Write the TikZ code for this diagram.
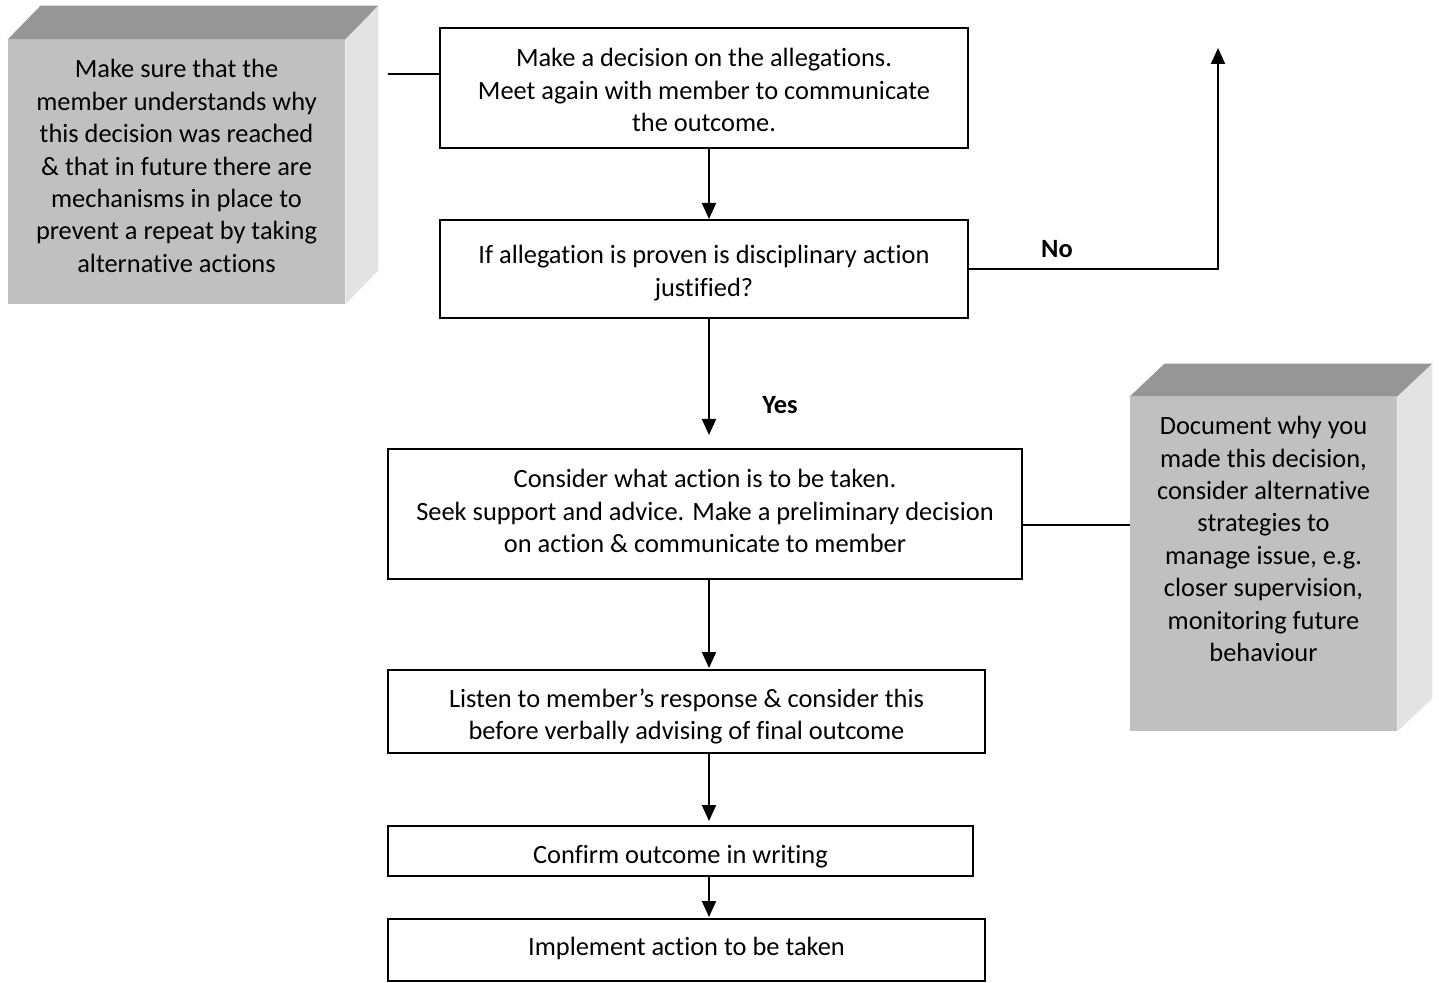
\documentclass[tikz,border=0pt]{standalone}
\usepackage{fontspec}
\setmainfont[Ligatures=NoCommon]{Carlito}
\usetikzlibrary{arrows.meta,calc}
\definecolor{frontgray}{HTML}{C0C0C0}
\definecolor{topgray}{HTML}{969696}
\definecolor{sidegray}{HTML}{E3E3E3}
\begin{document}
\begin{tikzpicture}[x=0.5pt,y=-0.5pt,
  every node/.style={font=\fontsize{13.2}{16.2}\selectfont},
  stepbox/.style={draw=black,line width=1pt,fill=white,inner sep=0pt,minimum width=#1},
  txt/.style={align=center,inner sep=0pt},
  shadebox/.style={fill=frontgray,inner sep=0pt},
  arr/.style={line width=1pt,-{Triangle[length=8pt,width=7pt]}},
  conn/.style={line width=0.7pt},
  lbl/.style={font=\fontsize{13.2}{16.2}\selectfont\bfseries}]
\useasboundingbox (0,0) rectangle (1439,983);
% step boxes
\node[stepbox=264pt,minimum height=60pt] (b1) at (704,88) {};
\node[txt] (t1) at ($(b1.center)+(0,2)$) {Make a decision on the allegations.\\Meet again with member to communicate\\the outcome.};
\node[stepbox=264pt,minimum height=49pt] (b2) at (704,269) {};
\node[txt] (t2) at ($(b2.center)+(0,4)$) {If allegation is proven is disciplinary action\\justified?};
\node[stepbox=317pt,minimum height=65pt] (b3) at (705,514) {};
\node[txt] (t3) at ($(b3.center)+(0,-3)$) {Consider what action is to be taken.\\Seek support and advice. Make a preliminary decision\\on action \& communicate to member};
\node[stepbox=298.5pt,minimum height=41.5pt] (b4) at (686.5,711.5) {};
\node[txt] (t4) at ($(b4.center)+(0,5)$) {Listen to member’s response \& consider this\\before verbally advising of final outcome};
\node[stepbox=292.5pt,minimum height=25pt] (b5) at (680.5,851) {};
\node[txt] (t5) at ($(b5.center)+(0,6)$) {Confirm outcome in writing};
\node[stepbox=298.5pt,minimum height=31pt] (b6) at (686.5,950) {};
\node[txt] (t6) at ($(b6.center)+(0,-2)$) {Implement action to be taken};
% 3D shaded boxes
\node[shadebox,minimum width=168.5pt,minimum height=132pt] (L) at (176.5,172) {};
\fill[topgray] (L.north west) -- ++(33,-34) -- ($(L.north east)+(33,-34)$) -- (L.north east) -- cycle;
\fill[sidegray] (L.north east) -- ++(33,-34) -- ($(L.south east)+(33,-34)$) -- (L.south east) -- cycle;
\node[txt] (tL) at ($(L.center)+(0,-6)$) {Make sure that the\\member understands why\\this decision was reached\\\& that in future there are\\mechanisms in place to\\prevent a repeat by taking\\alternative actions};
\node[shadebox,minimum width=133.5pt,minimum height=167pt] (R) at (1263.5,564) {};
\fill[topgray] (R.north west) -- ++(35,-33) -- ($(R.north east)+(35,-33)$) -- (R.north east) -- cycle;
\fill[sidegray] (R.north east) -- ++(35,-33) -- ($(R.south east)+(35,-33)$) -- (R.south east) -- cycle;
\node[txt] (tR) at ($(R.center)+(0,-25)$) {Document why you\\made this decision,\\consider alternative\\strategies to\\manage issue, e.g.\\closer supervision,\\monitoring future\\behaviour};
% connectors
\coordinate (lc) at (388,74);
\draw[conn] (lc) -- (lc -| b1.west);
\coordinate (rc) at (1130,525);
\draw[conn] (rc -| b3.east) -- (rc);
\draw[arr] (b1.south -| 709,0) -- (b2.north -| 709,0);
\coordinate (yes) at (709,435);
\draw[arr] (b2.south -| 709,0) -- (yes);
\node[lbl] (ly) at (780,405) {Yes};
\coordinate (b3arr) at (709,668);
\draw[arr] (b3.south -| 709,0) -- (b3arr);
\coordinate (b4arr) at (709,821);
\draw[arr] (b4.south -| 709,0) -- (b4arr);
\coordinate (b5arr) at (709,917);
\draw[arr] (b5.south -| 709,0) -- (b5arr);
\coordinate (notop) at (1218,48);
\draw[arr] (b2.east) -- (b2.east -| notop) -- (notop);
\node[lbl] (ln) at (1057,249) {No};
\end{tikzpicture}
\end{document}
